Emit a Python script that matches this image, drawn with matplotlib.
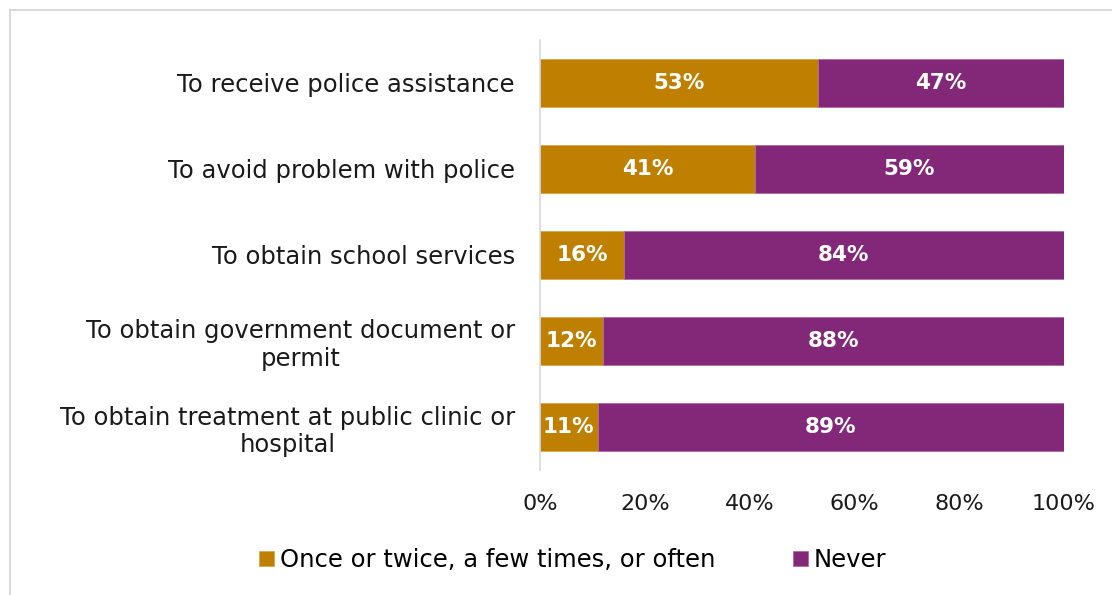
import matplotlib.pyplot as plt
from matplotlib.lines import Line2D

categories = [
    "To receive police assistance",
    "To avoid problem with police",
    "To obtain school services",
    "To obtain government document or\npermit",
    "To obtain treatment at public clinic or\nhospital",
]
at_least_once = [53, 41, 16, 12, 11]
never = [47, 59, 84, 88, 89]
series_names = ["Once or twice, a few times, or often", "Never"]
x_ticks = [0, 20, 40, 60, 80, 100]

gold = "#BF7F00"
purple = "#832878"

plt.rcParams["font.family"] = ["DejaVu Sans"]

fig = plt.figure(figsize=(11.12, 5.95), dpi=100)
ax = fig.add_axes([0.4856, 0.21, 0.4712, 0.723])

y = list(range(len(categories)))
b1 = ax.barh(y, at_least_once, height=0.56, color=gold, edgecolor="#D9A64D",
             linewidth=0.6, label=series_names[0])
b2 = ax.barh(y, never, left=at_least_once, height=0.56, color=purple,
             edgecolor="#B06AA8", linewidth=0.6, label=series_names[1])

for vals, lefts in [(at_least_once, [0] * len(y)), (never, at_least_once)]:
    for yi, v, l in zip(y, vals, lefts):
        ax.text(l + v / 2, yi, f"{v}%", ha="center", va="center",
                color="white", fontsize=15.5, fontweight="bold")

ax.set_ylim(len(categories) - 0.5, -0.5)
ax.set_xlim(0, 100)
ax.set_yticks(y)
ax.set_yticklabels(categories, fontsize=17.5, color="#1a1a1a", ha="right",
                   multialignment="center", linespacing=1.2, va="center_baseline")
ax.set_xticks(x_ticks)
ax.set_xticklabels([f"{t}%" for t in x_ticks], fontsize=16, color="#1a1a1a")
ax.tick_params(axis="both", length=0)
ax.tick_params(axis="y", pad=18)
ax.tick_params(axis="x", pad=17)

for s in ["top", "right", "bottom"]:
    ax.spines[s].set_visible(False)
ax.spines["left"].set_color("#D9D9D9")
ax.spines["left"].set_linewidth(1.2)

fig.legend(handles=[b1, b2], labels=series_names, loc="center",
           bbox_to_anchor=(0.515, 0.059), ncol=2, frameon=False, fontsize=17.5,
           handlelength=0.6, handleheight=0.6, handletextpad=0.25, columnspacing=3.2)

# thin outline along the top and left edges
top = 1 - 9.5 / 595
left = 10 / 1112
fig.lines.append(Line2D([left, 1], [top, top], transform=fig.transFigure,
                        color="#D9D9D9", linewidth=1.5))
fig.lines.append(Line2D([left, left], [0, top], transform=fig.transFigure,
                        color="#D9D9D9", linewidth=1.5))

fig.savefig("out.png", dpi=100)
